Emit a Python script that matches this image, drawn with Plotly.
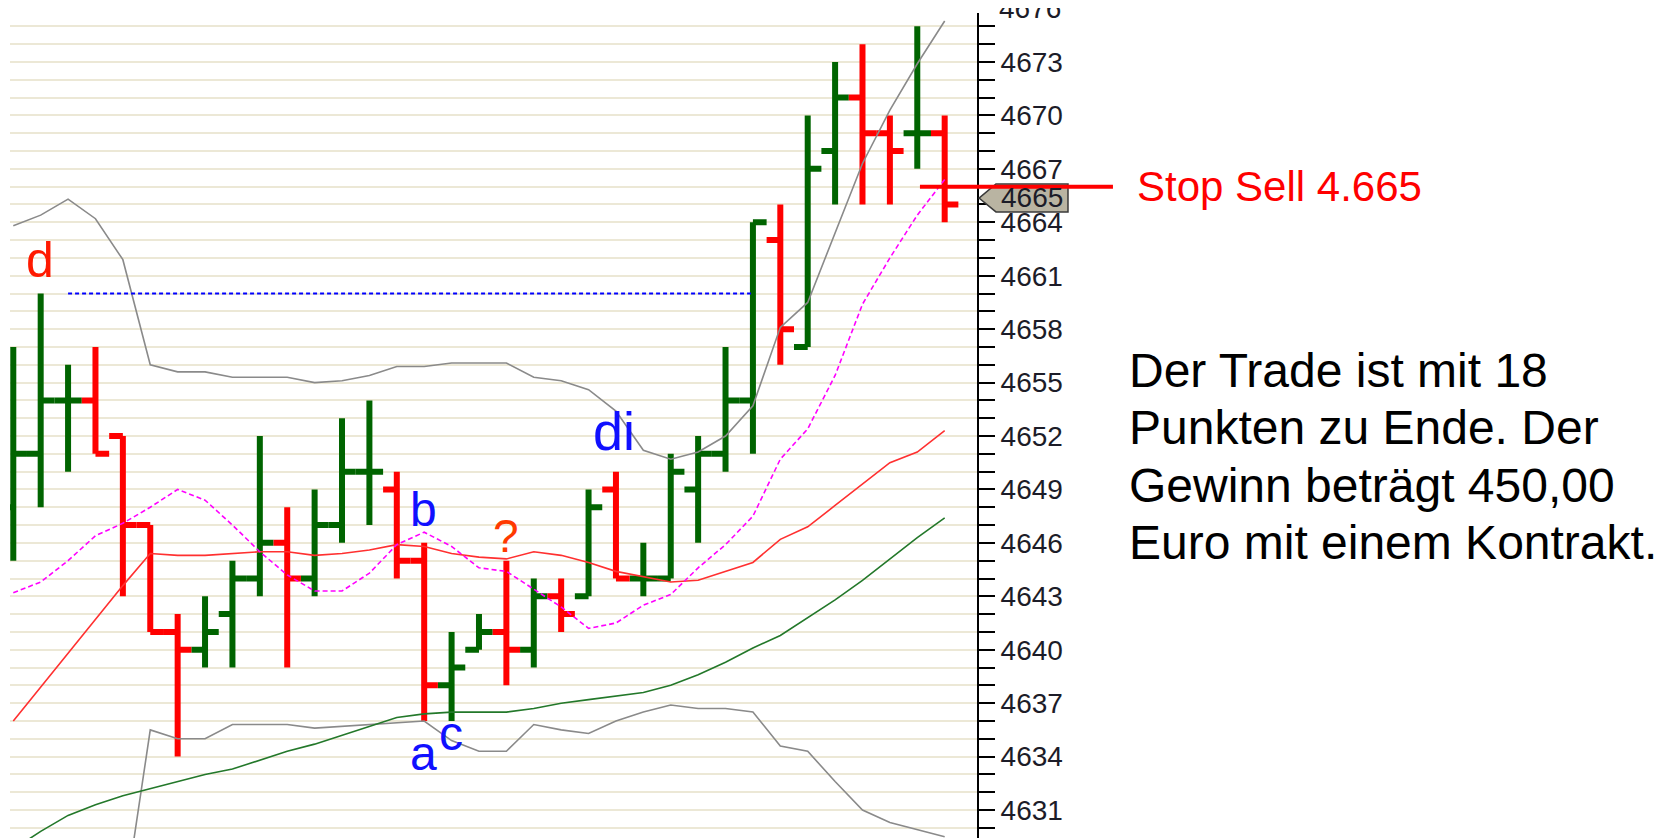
"""Bar chart (OHLC) with Bollinger bands, moving averages and trade notes."""

import numpy as np
import plotly.graph_objects as go

# one bar per period, index 0..34
BAR_INDEX = list(range(35))

OPEN = [4648, 4651, 4654, 4654, 4652, 4647, 4641, 4640, 4642, 4644,
        4646, 4644, 4647, 4650, 4649, 4645, 4638, 4640, 4641, 4640,
        4643, 4643, 4649, 4644, 4644, 4649, 4651, 4654, 4663, 4657,
        4668, 4671, 4669, 4669, 4669]
HIGH = [4657, 4660, 4656, 4657, 4652, 4647, 4642, 4643, 4645, 4652,
        4648, 4649, 4653, 4654, 4650, 4646, 4641, 4642, 4645, 4644,
        4644, 4649, 4650, 4646, 4651, 4652, 4657, 4664, 4665, 4670,
        4673, 4674, 4670, 4675, 4670]
LOW = [4645, 4648, 4650, 4651, 4643, 4641, 4634, 4639, 4639, 4643,
       4639, 4643, 4646, 4647, 4644, 4636, 4636, 4640, 4638, 4639,
       4641, 4643, 4644, 4643, 4644, 4646, 4650, 4651, 4656, 4657,
       4665, 4665, 4665, 4667, 4664]
CLOSE = [4651, 4654, 4654, 4651, 4647, 4641, 4640, 4641, 4644, 4646,
         4644, 4647, 4650, 4650, 4645, 4638, 4639, 4641, 4640, 4643,
         4642, 4648, 4644, 4644, 4650, 4651, 4654, 4664, 4658, 4667,
         4671, 4669, 4668, 4669, 4665]

# indicator lines, one value per bar
BB_UPPER = [4663.8, 4664.4, 4665.3, 4664.2, 4661.9, 4656.0, 4655.6, 4655.6, 4655.3, 4655.3,
            4655.3, 4655.0, 4655.1, 4655.4, 4655.9, 4655.9, 4656.1, 4656.1, 4656.1, 4655.3,
            4655.1, 4654.6, 4653.4, 4651.2, 4650.7, 4651.1, 4652.0, 4653.7, 4658.1, 4659.5,
            4663.4, 4667.3, 4670.3, 4672.9, 4675.3]
BB_LOWER = [None, None, None, None, 4625.2, 4635.5, 4635.0, 4635.0, 4635.8, 4635.8,
            4635.8, 4635.6, 4635.7, 4635.8, 4635.9, 4636.0, 4634.9, 4634.3, 4634.3, 4635.8,
            4635.5, 4635.3, 4636.0, 4636.5, 4636.9, 4636.7, 4636.7, 4636.5, 4634.6, 4634.3,
            4632.6, 4631.0, 4630.3, 4629.9, 4629.5]
SMA_RED = [4636.0, 4637.9, 4639.8, 4641.7, 4643.6, 4645.4, 4645.3, 4645.3, 4645.4, 4645.5,
           4645.5, 4645.3, 4645.4, 4645.6, 4645.9, 4645.8, 4645.4, 4645.2, 4645.1, 4645.5,
           4645.3, 4644.9, 4644.4, 4644.1, 4643.8, 4643.9, 4644.4, 4644.9, 4646.2, 4646.9,
           4648.1, 4649.3, 4650.5, 4651.1, 4652.3]
MA_PINK = [4643.2, 4643.8, 4645.0, 4646.4, 4647.1, 4648.0, 4649.0, 4648.4, 4647.0, 4645.5,
           4644.2, 4643.3, 4643.3, 4644.3, 4645.9, 4646.6, 4645.8, 4644.6, 4644.4, 4643.4,
           4642.4, 4641.2, 4641.5, 4642.5, 4643.1, 4644.6, 4645.9, 4647.5, 4650.7, 4652.4,
           4655.4, 4659.4, 4662.0, 4664.4, 4666.4]
MA_GREEN = [4628.8, 4629.8, 4630.7, 4631.3, 4631.8, 4632.2, 4632.6, 4633.0, 4633.3, 4633.8,
            4634.3, 4634.7, 4635.2, 4635.7, 4636.2, 4636.4, 4636.5, 4636.5, 4636.5, 4636.7,
            4637.0, 4637.2, 4637.4, 4637.6, 4638.0, 4638.6, 4639.3, 4640.1, 4640.8, 4641.8,
            4642.8, 4643.9, 4645.1, 4646.3, 4647.4]

# dotted level from the "d" high to the breakout bar
D_LEVEL = 4660
D_LEVEL_BARS = [2, 27]

# wave labels on the chart
LETTER_TEXT = ["d", "b", "?", "a", "c", "di"]
LETTER_X = [0.97, 14.99, 17.99, 14.99, 15.98, 21.93]
LETTER_Y = [4661.9, 4647.9, 4646.4, 4634.2, 4635.3, 4652.3]
LETTER_COLOR = ["#ff1a00", "#1010ff", "#ff3a00", "#1010ff", "#1010ff", "#1010ff"]
LETTER_SIZE = [50, 48, 46, 48, 48, 54]

Y_TICKS = [4631, 4634, 4637, 4640, 4643, 4646, 4649, 4652, 4655, 4658,
           4661, 4664, 4667, 4670, 4673]
STOP_LEVEL = 4666
LAST_PRICE = 4665
STOP_TEXT = "Stop Sell 4.665"
NOTE_LINES = [
    "Der Trade ist mit 18",
    "Punkten zu Ende. Der",
    "Gewinn beträgt 450,00",
    "Euro mit einem Kontrakt.",
]

FONT = "Arial, Liberation Sans, sans-serif"
TICK_FONT = dict(family=FONT, size=28, color="#1c1c28")
Y_RANGE = [4629.43, 4675.75]
X_RANGE = [-0.12, 35.18]


def add_bars(fig, mask, color):
    idx = np.array(BAR_INDEX)[mask]
    fig.add_trace(go.Ohlc(
        x=idx,
        open=np.array(OPEN)[mask],
        high=np.array(HIGH)[mask],
        low=np.array(LOW)[mask],
        close=np.array(CLOSE)[mask],
        tickwidth=0.5,
        increasing=dict(line=dict(color=color, width=6)),
        decreasing=dict(line=dict(color=color, width=6)),
        showlegend=False,
        hoverinfo="skip",
    ))


fig = go.Figure()

up = np.array(CLOSE) >= np.array(OPEN)
add_bars(fig, up, "#006400")
add_bars(fig, ~up, "#ff0000")

lines = [
    (BB_UPPER, "#8a8a8a", None),
    (BB_LOWER, "#8a8a8a", None),
    (SMA_RED, "#ff3030", None),
    (MA_GREEN, "#23782a", None),
    (MA_PINK, "#ff00ff", "5px,3px"),
]
for values, color, dash in lines:
    fig.add_trace(go.Scatter(
        x=BAR_INDEX, y=values, mode="lines",
        line=dict(color=color, width=1.6, dash=dash),
        connectgaps=False, showlegend=False, hoverinfo="skip",
    ))

fig.add_trace(go.Scatter(
    x=D_LEVEL_BARS, y=[D_LEVEL, D_LEVEL], mode="lines",
    line=dict(color="#0000ff", width=2, dash="4px,3px"),
    showlegend=False, hoverinfo="skip",
))

# letters
for text, x, y, color, size in zip(LETTER_TEXT, LETTER_X, LETTER_Y, LETTER_COLOR, LETTER_SIZE):
    fig.add_annotation(x=x, y=y, xref="x", yref="y", text=text, showarrow=False,
                       font=dict(family=FONT, size=size, color=color))

# price tag on the axis and the stop line
fig.add_shape(type="path", xref="paper", yref="y",
              path="M 1.0021,4665.36 L 1.0196,4666.15 L 1.0941,4666.15 "
                   "L 1.0941,4664.58 L 1.0196,4664.58 Z",
              fillcolor="#b9b4a2", line=dict(color="#3a3a3a", width=1.5), layer="above")
fig.add_annotation(x=1.0568, y=LAST_PRICE + 0.4, xref="paper", yref="y", text=str(LAST_PRICE),
                   xanchor="center", yanchor="middle", showarrow=False, font=TICK_FONT)
fig.add_shape(type="line", xref="paper", yref="y", x0=0.941, x1=1.1406,
              y0=STOP_LEVEL, y1=STOP_LEVEL, line=dict(color="#ff0000", width=4), layer="above")
fig.add_annotation(x=1.1634, y=STOP_LEVEL, xref="paper", yref="y", text=STOP_TEXT,
                   xanchor="left", yanchor="middle", showarrow=False,
                   font=dict(family=FONT, size=42, color="#ff0000"))

# cut-off top tick label
fig.add_annotation(x=1.0205, y=1.0053, xref="paper", yref="paper", text="4676",
                   xanchor="left", yanchor="middle", showarrow=False, font=TICK_FONT)

# note text
note_y = [0.5664, 0.4970, 0.4274, 0.3578]
for line, y in zip(NOTE_LINES, note_y):
    fig.add_annotation(x=1.155, y=y, xref="paper", yref="paper", text=line,
                       xanchor="left", yanchor="middle", showarrow=False,
                       font=dict(family=FONT, size=48, color="#000000"))

# the page body has an 8px margin, so the figure is made 8px smaller
fig.update_layout(
    width=1659,
    height=830,
    margin=dict(l=2, r=690, t=5, b=0),
    plot_bgcolor="white",
    paper_bgcolor="white",
    showlegend=False,
    xaxis=dict(
        range=X_RANGE,
        visible=False,
        rangeslider=dict(visible=False),
        fixedrange=True,
    ),
    yaxis=dict(
        range=Y_RANGE,
        side="right",
        showline=True,
        linecolor="#000000",
        linewidth=2,
        zeroline=False,
        tickmode="array",
        tickvals=Y_TICKS,
        ticktext=[str(v) for v in Y_TICKS],
        ticks="outside",
        ticklen=16,
        tickwidth=2,
        tickcolor="#000000",
        tickfont=TICK_FONT,
        showgrid=True,
        gridcolor="#ece8d6",
        gridwidth=2,
        minor=dict(
            tickvals=list(range(4630, 4676)),
            ticks="outside",
            ticklen=16,
            tickwidth=2,
            tickcolor="#000000",
            showgrid=True,
            gridcolor="#ece8d6",
            gridwidth=2,
        ),
        fixedrange=True,
    ),
)

fig.write_html("out.html")
